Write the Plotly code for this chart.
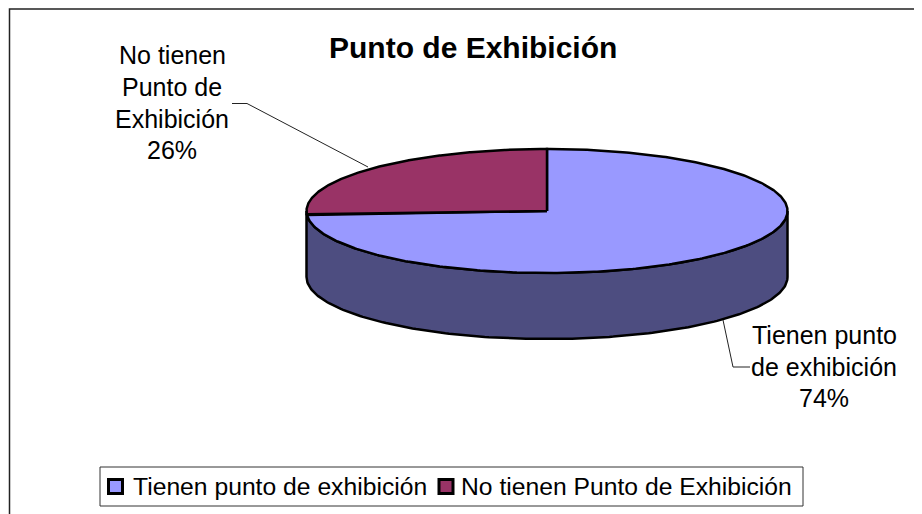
#!/usr/bin/env python3
"""Excel-style 3-D pie: plotly has no 3-D pie, so slices are built as filled scatter outlines."""
import numpy as np
import plotly.graph_objects as go

LABELS = ["Tienen punto de exhibición", "No tienen Punto de Exhibición"]
VALUES = [74, 26]
COLORS = ["#9999FF", "#993366"]
SIDE_COLOR = "#4D4D80"
TITLE = "Punto de Exhibición"
FONT = "Liberation Sans"

# the page keeps the browser's 8px body margin, so the axes run in window pixels from 8
W, H = 922, 514
OFF = 8
CX, CY, RX, RY, DEPTH = 547, 211, 240.5, 62, 66


def rim(t):
    # t in degrees, clockwise from 12 o'clock
    r = np.radians(t)
    return CX + RX * np.sin(r), CY - RY * np.cos(r)


fig = go.Figure()
outline = dict(color="black", width=2.5)
shares = np.cumsum([0] + VALUES) / sum(VALUES) * 360

# side wall: only the front half of the ellipse shows (90 to 270 degrees)
t = np.linspace(90, 270, 181)
x, y = rim(t)
fig.add_trace(go.Scatter(x=np.r_[x, x[::-1], x[0]], y=np.r_[y, y[::-1] + DEPTH, y[0]], mode="lines",
                         fill="toself", fillcolor=SIDE_COLOR, line=outline, hoverinfo="skip", showlegend=False))

# top face slices
for i, lab in enumerate(LABELS):
    t = np.linspace(shares[i], shares[i + 1], 361)
    x, y = rim(t)
    fig.add_trace(go.Scatter(x=np.r_[CX, x, CX], y=np.r_[CY, y, CY], mode="lines", fill="toself",
                             fillcolor=COLORS[i], line=outline, name=lab, text=f"{lab}: {VALUES[i]}%",
                             hoverinfo="text", showlegend=False))

# legend swatches
SWATCH_X = [115.5, 446]
TEXT_X = [131, 458.5]
LEG_Y = 486.5
fig.add_trace(go.Scatter(x=SWATCH_X, y=[LEG_Y] * 2, mode="markers", hoverinfo="skip", showlegend=False,
                         marker=dict(symbol="square", size=14, color=COLORS, line=dict(color="black", width=3))))

shapes = [
    dict(type="rect", x0=9.5, y0=9, x1=W + 20, y1=H + 20, line=dict(color="#222222", width=1.5), layer="below"),
    dict(type="rect", x0=100, y0=467, x1=803, y1=506, line=dict(color="#333333", width=1), layer="below"),
    dict(type="path", path="M 232,103.5 L 247,103.5 L 368,167", line=dict(color="#222222", width=1)),
    dict(type="path", path="M 723,320 L 733,367 L 750,367", line=dict(color="#222222", width=1)),
]


def note(x, y, text, size=25, anchor="center", bold=False):
    if bold:
        text = f"<b>{text}</b>"
    return dict(x=x, y=y, text=text, showarrow=False, xanchor=anchor, yanchor="middle", align="center",
                font=dict(family=FONT, size=size, color="black"), xref="x", yref="y")


annotations = [
    note(473, 47, TITLE, size=30, bold=True),
    note(172, 55, "No tienen"),
    note(172, 87, "Punto de"),
    note(172, 119, "Exhibición"),
    note(172, 150, f"{VALUES[1]}%"),
    note(824, 335, "Tienen punto"),
    note(824, 367, "de exhibición"),
    note(824, 398, f"{VALUES[0]}%"),
    note(TEXT_X[0], LEG_Y, LABELS[0], size=24.7, anchor="left"),
    note(TEXT_X[1], LEG_Y, LABELS[1], size=24.7, anchor="left"),
]

fig.update_layout(
    width=W - OFF, height=H - OFF, margin=dict(l=0, r=0, t=0, b=0), paper_bgcolor="white", plot_bgcolor="white",
    xaxis=dict(range=[OFF, W], visible=False, fixedrange=True),
    yaxis=dict(range=[H, OFF], visible=False, fixedrange=True),
    shapes=shapes, annotations=annotations,
)
fig.write_html("out.html")
